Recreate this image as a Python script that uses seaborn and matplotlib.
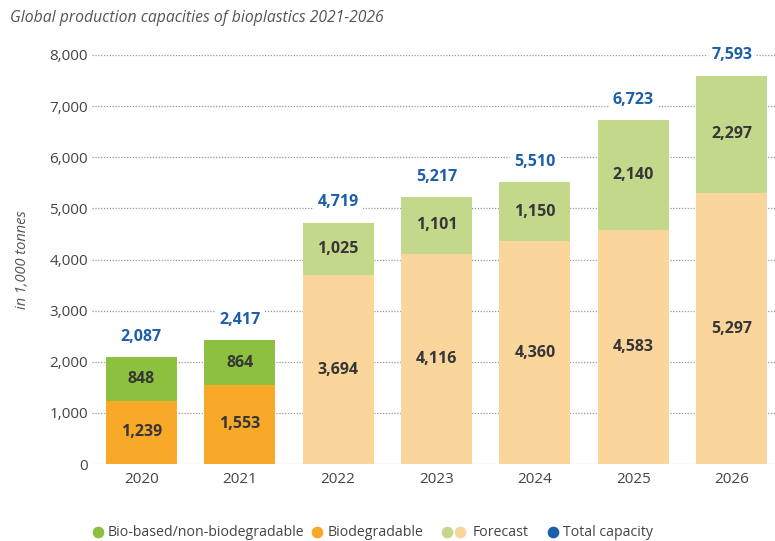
import matplotlib
matplotlib.use("Agg")
import matplotlib.pyplot as plt
import seaborn as sns
import pandas as pd
from matplotlib.lines import Line2D

years = ["2020", "2021", "2022", "2023", "2024", "2025", "2026"]
biodegradable = [1239, 1553, 3694, 4116, 4360, 4583, 5297]
biobased = [848, 864, 1025, 1101, 1150, 2140, 2297]
totals = [2087, 2417, 4719, 5217, 5510, 6723, 7593]
y_ticks = [0, 1000, 2000, 3000, 4000, 5000, 6000, 7000, 8000]

GREEN = "#8dc03f"
ORANGE = "#f8a928"
LGREEN = "#c4d88b"
LORANGE = "#fad59c"
BLUE = "#1d5fa6"
TXT = "#363636"

forecast = [False, False, True, True, True, True, True]
top_cols = [LGREEN if f else GREEN for f in forecast]
bot_cols = [LORANGE if f else ORANGE for f in forecast]

df = pd.DataFrame({"year": years, "bio": biodegradable, "based": biobased, "total": totals})

sns.set_theme(style="white")
plt.rcParams["font.family"] = ["Open Sans", "DejaVu Sans"]

W, H = 775, 541
fig = plt.figure(figsize=(W / 100, H / 100), dpi=100)
ax = fig.add_axes([92 / W, 1 - 464 / H, 689 / W, (464 - 55) / H])

sns.barplot(data=df, x="year", y="total", hue="year", palette=top_cols, legend=False,
            width=0.72, ax=ax, saturation=1, linewidth=0, zorder=3)
sns.barplot(data=df, x="year", y="bio", hue="year", palette=bot_cols, legend=False,
            width=0.72, ax=ax, saturation=1, linewidth=0, zorder=3)

ax.set_xlim(-0.5, 6.5)
ax.set_ylim(0, 8000)
ax.set_yticks(y_ticks)
ax.set_yticklabels([f"{v:,}" for v in y_ticks], color="#444444", fontsize=11)
ax.tick_params(axis="x", colors="#444444", labelsize=11, length=0, pad=6)
ax.tick_params(axis="y", length=0, pad=3)
for s in ax.spines.values():
    s.set_visible(False)
for v in y_ticks:
    ax.axhline(v, color="#9a9a9a", lw=0.9, ls=(0, (1, 1.3)), zorder=1, xmin=0, xmax=0.991)
ax.set_xlabel("")
ax.set_ylabel("in 1,000 tonnes", fontstyle="italic", color="#555555", fontsize=10.5, labelpad=14)

for i in range(len(years)):
    ax.text(i, biodegradable[i] / 2, f"{biodegradable[i]:,}", ha="center", va="center",
            fontsize=11.5, fontweight="bold", color=TXT, zorder=5)
    ax.text(i, biodegradable[i] + biobased[i] / 2, f"{biobased[i]:,}", ha="center", va="center",
            fontsize=11.5, fontweight="bold", color=TXT, zorder=5)
    ax.annotate(f"{totals[i]:,}", (i, totals[i]), xytext=(0, 9), textcoords="offset points",
                ha="center", va="bottom", fontsize=11.5, fontweight="bold", color=BLUE,
                annotation_clip=False, zorder=5,
                bbox=dict(boxstyle="square,pad=0.25", fc="white", ec="none"))

fig.text(10 / W, 1 - 18 / H, "Global production capacities of bioplastics 2021-2026",
         fontstyle="italic", color="#555555", fontsize=11.3, ha="left", va="center")

# legend (placed manually to reproduce the irregular spacing of the original)
leg_y = 1 - 532 / H
leg_dots = [(98, GREEN), (317, ORANGE), (447, LGREEN), (460, LORANGE), (553, BLUE)]
leg_texts = [(108, "Bio-based/non-biodegradable"), (328, "Biodegradable"),
             (473, "Forecast"), (563, "Total capacity")]
for x, c in leg_dots:
    fig.add_artist(Line2D([x / W], [leg_y], transform=fig.transFigure, marker="o", ls="",
                          markersize=7.4, markerfacecolor=c, markeredgecolor=c))
for x, t in leg_texts:
    fig.text(x / W, leg_y, t, ha="left", va="center", fontsize=10.2, color="#444444")

fig.savefig("out.png", dpi=100)
